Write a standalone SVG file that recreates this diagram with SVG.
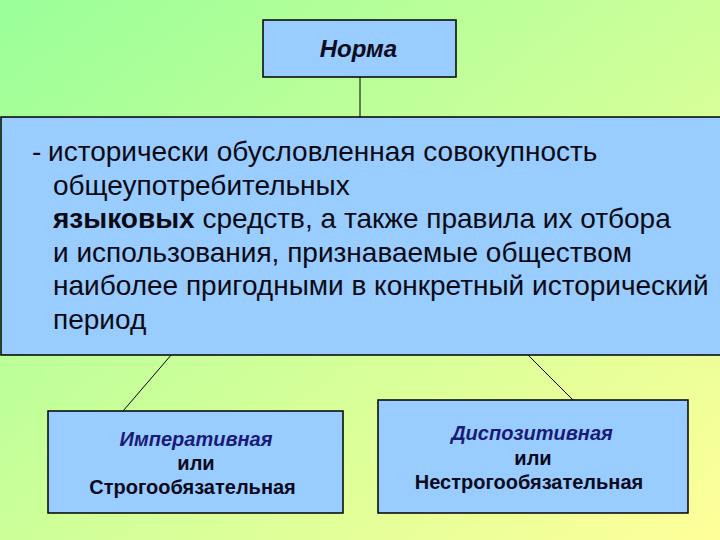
<svg xmlns="http://www.w3.org/2000/svg" width="720" height="540" viewBox="0 0 720 540">
<defs>
<linearGradient id="bg" x1="0" y1="0" x2="1" y2="1">
<stop offset="0" stop-color="#99ff99"/>
<stop offset="1" stop-color="#ffff99"/>
</linearGradient>
</defs>
<style>
.box{fill:#99ccff;stroke:#000;stroke-width:1.5}
.con{stroke:#000;stroke-width:1;fill:none}
.main{font-family:"Liberation Sans",Arial,sans-serif;font-size:28px;fill:#0a0a14}
.t{font-family:"Liberation Sans",Arial,sans-serif;font-size:20px;font-weight:bold;fill:#0a0a20;text-anchor:middle}
.ti{font-style:italic;fill:#1a1a78}
</style>
<rect width="720" height="540" fill="url(#bg)"/>
<g id="connectors">
<line class="con" x1="360" y1="77" x2="360" y2="117"/>
<line class="con" x1="172" y1="354" x2="123" y2="411"/>
<line class="con" x1="527" y1="354" x2="573" y2="400"/>
</g>
<g id="norma">
<rect class="box" x="263" y="20" width="193" height="57"/>
<text x="358.5" y="57" font-family="'Liberation Sans',Arial,sans-serif" font-size="24" font-weight="bold" font-style="italic" fill="#0a0a20" text-anchor="middle">Норма</text>
</g>
<g id="definition">
<rect class="box" x="1" y="117" width="722" height="238"/>
<text class="main" x="32" y="161" font-size="22">-</text>
<text class="main" x="48" y="161">исторически обусловленная совокупность</text>
<text class="main" x="53" y="194.5">общеупотребительных</text>
<text class="main" x="53" y="228"><tspan font-weight="bold">языковых</tspan> средств, а также правила их отбора</text>
<text class="main" x="53" y="261.5">и использования, признаваемые обществом</text>
<text class="main" x="53" y="295">наиболее пригодными в конкретный исторический</text>
<text class="main" x="53" y="328.5">период</text>
</g>
<g id="imperative">
<rect class="box" x="48" y="411" width="295" height="102"/>
<text class="t ti" x="196" y="446">Императивная</text>
<text class="t" x="196" y="470">или</text>
<text class="t" x="192.5" y="494">Строгообязательная</text>
</g>
<g id="dispositive">
<rect class="box" x="378" y="400" width="310" height="113"/>
<text class="t ti" x="532" y="440">Диспозитивная</text>
<text class="t" x="533" y="465">или</text>
<text class="t" x="529" y="489">Нестрогообязательная</text>
</g>
</svg>
